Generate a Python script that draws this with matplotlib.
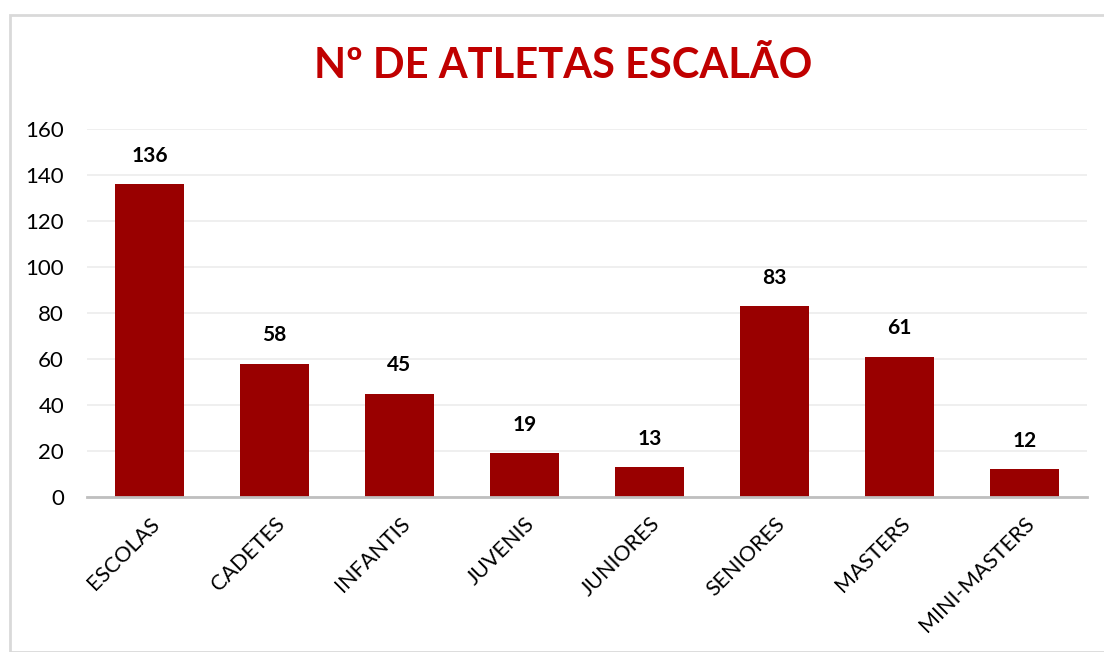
import matplotlib.pyplot as plt
from matplotlib.patches import Rectangle

categories = ['ESCOLAS', 'CADETES', 'INFANTIS', 'JUVENIS', 'JUNIORES', 'SENIORES', 'MASTERS', 'MINI-MASTERS']
athletes = [136, 58, 45, 19, 13, 83, 61, 12]
y_ticks = [0, 20, 40, 60, 80, 100, 120, 140, 160]

plt.rcParams['font.family'] = ['Lato', 'DejaVu Sans']

W, H = 1104, 652
fig = plt.figure(figsize=(W / 100, H / 100), dpi=100)

# chart border (cut off on the right and bottom like the reference)
fig.patches.append(Rectangle((9.5 / W, 0), 1.2, 1 - 14.5 / H, transform=fig.transFigure,
                             fill=False, edgecolor='#d9d9d9', linewidth=2))

ax = fig.add_axes([87 / W, 1 - 497 / H, 1000 / W, 368 / H])

x = range(len(categories))
bars = ax.bar(x, athletes, width=0.552, color='#990000', zorder=3)
for rect, val in zip(bars, athletes):
    ax.text(rect.get_x() + rect.get_width() / 2, val + 8, str(val),
            ha='center', va='bottom', fontsize=15, fontweight='bold', color='black')

ax.set_xlim(-0.5, len(categories) - 0.5)
ax.set_ylim(0, 160)
ax.set_yticks(y_ticks)
ax.yaxis.grid(True, color='#ececec', linewidth=1.2, zorder=0)
ax.tick_params(axis='y', length=0, labelsize=16, pad=16.5)
ax.tick_params(axis='x', length=0, labelsize=15.5, pad=12)
ax.set_xticks(list(x))
ax.set_xticklabels(categories, rotation=45, ha='right', rotation_mode='anchor')
for s in ['top', 'right', 'left']:
    ax.spines[s].set_visible(False)
ax.spines['bottom'].set_color('#bfbfbf')
ax.spines['bottom'].set_linewidth(2)
ax.spines['bottom'].set_zorder(4)

fig.text(563 / W, 1 - 66 / H, 'Nº DE ATLETAS ESCALÃO', ha='center', va='center',
         fontsize=30, fontweight='bold', color='#c00000')

fig.savefig('out.png', dpi=100)
